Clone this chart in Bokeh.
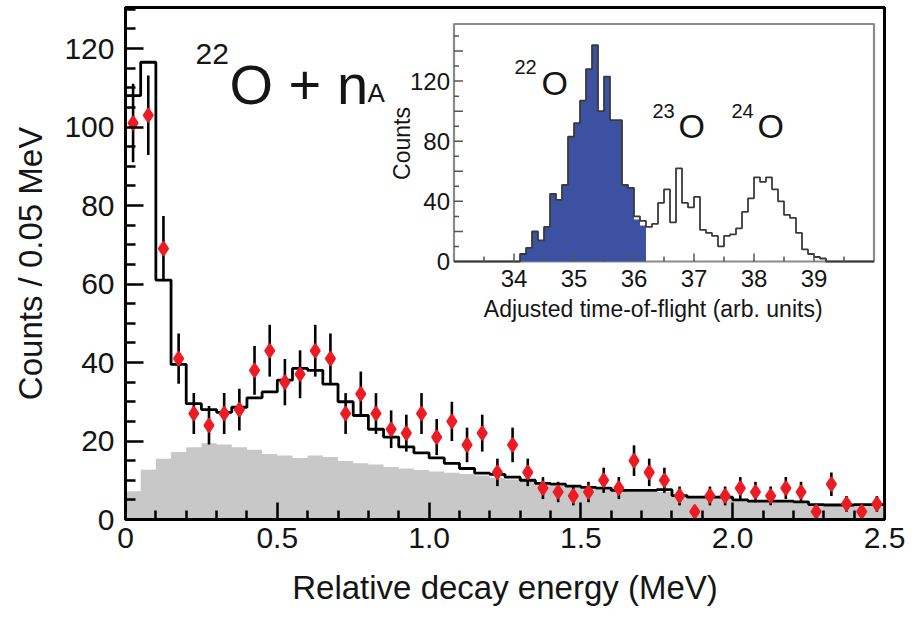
import numpy as np
from bokeh.plotting import figure
from bokeh.models import Range1d, FixedTicker, Label
from bokeh.embed import file_html
from bokeh.resources import INLINE

# ---------------- main spectrum (0.05 MeV bins starting at 0) ----------------
energy_bin_width = 0.05
counts = [101, 103, 69, 41, 27, 24, 27, 28, 38, 43, 35, 37, 43, 41, 27, 32, 27, 23,
          22, 27, 21, 25, 19, 22, 12, 19, 12, 8, 7, 6, 7, 10, 8, 15, 12, 10, 6, 2,
          6, 6, 8, 7, 6, 8, 7, 2, 9, 4, 2, 4]
count_err = [10.0, 10.1, 8.3, 6.4, 5.2, 4.9, 5.2, 5.3, 6.2, 6.6, 5.9, 6.1, 6.6, 6.4,
             5.2, 5.7, 5.2, 4.8, 4.7, 5.2, 4.6, 5.0, 4.4, 4.7, 3.5, 4.4, 3.5, 2.8,
             2.6, 2.4, 2.6, 3.2, 2.8, 3.9, 3.5, 3.2, 2.4, 1.4, 2.4, 2.4, 2.8, 2.6,
             2.4, 2.8, 2.6, 1.4, 3.0, 2.0, 1.4, 2.0]
fit_total = [108, 116.5, 61, 39.5, 29.5, 28, 27.3, 28.6, 31, 32.5, 35.5, 38.5, 38,
             34.5, 30, 26.5, 23, 21, 18.5, 17, 15.7, 14.3, 13, 11.8, 11.5, 10.8, 10,
             9.2, 9, 8.5, 8.2, 8, 7.4, 7.4, 7.4, 7.6, 6.1, 5.7, 5.7, 5.7, 5.0, 4.7,
             4.7, 4.7, 4.5, 3.8, 3.7, 3.7, 3.8, 3.8]
background = [7.2, 12.7, 15.5, 17.2, 18.4, 19.4, 19.1, 18.4, 17.8, 16.7, 16.3, 15.7,
              16.3, 15.9, 14.9, 14.3, 14.0, 13.4, 13.0, 12.6, 12.2, 11.9, 11.6, 11.2,
              10.6, 10.2, 9.9, 9.3, 8.6, 8.2, 7.9, 7.6, 7.4, 7.0, 7.0, 7.0, 5.8, 5.5,
              5.5, 5.5, 4.8, 4.5, 4.5, 4.5, 4.2, 3.6, 3.4, 3.4, 3.5, 3.5]

x_ticks = [0, 0.5, 1, 1.5, 2, 2.5]
x_tick_labels = ["0", "0.5", "1.0", "1.5", "2.0", "2.5"]
x_minor = [0.1, 0.2, 0.3, 0.4, 0.6, 0.7, 0.8, 0.9, 1.1, 1.2, 1.3, 1.4, 1.6, 1.7, 1.8,
           1.9, 2.1, 2.2, 2.3, 2.4]
y_ticks = [0, 20, 40, 60, 80, 100, 120]
y_minor = [5, 10, 15, 25, 30, 35, 45, 50, 55, 65, 70, 75, 85, 90, 95, 105, 110, 115, 125, 130]
x_title = "Relative decay energy (MeV)"
y_title = "Counts / 0.05 MeV"

# ---------------- inset: time-of-flight (0.1 bins) ----------------
tof_first_edge = 34.1
tof_bin_width = 0.1
tof_counts = [5, 9, 20, 14, 23, 45, 41, 51, 83, 92, 107, 128, 144, 100, 123, 94, 94,
              51, 49, 30, 27, 23, 25, 39, 48, 26, 62, 39, 36, 43, 21, 19, 17, 10, 17,
              18, 22, 33, 42, 56, 53, 56, 48, 40, 31, 29, 19, 8, 5, 3, 2]
tof_gated = [5, 9, 20, 14, 23, 45, 41, 51, 83, 92, 107, 128, 144, 100, 123, 94, 94,
             51, 49, 28, 24]
inset_x_ticks = [34, 35, 36, 37, 38, 39]
inset_x_minor = [33.5, 34.5, 35.5, 36.5, 37.5, 38.5, 39.5]
inset_y_ticks = [0, 40, 80, 120]
inset_y_minor = [10, 20, 30, 50, 60, 70, 90, 100, 110, 130, 140, 150]

# ---------------- layout constants ----------------
W, H = 920, 618
FL, FR, FT, FB = 125, 884, 7, 519
XMAX = 2.5
YTOP = 130.45
IX0, IX1, IY0, IY1 = 33.0, 40.0, 0.0, 158.0
IL, IR, IT, IB = 453.5, 873.5, 23.5, 261.0

FONT = "Liberation Sans"
TXT = "#151515"
RED = "#ec1c24"

def dx(px):
    return (px - FL) / (FR - FL) * XMAX

def dy(py):
    return (FB - py) / (FB - FT) * YTOP

p = figure(width=W, height=H, x_range=Range1d(0, XMAX), y_range=Range1d(0, YTOP),
           min_border_left=FL, min_border_right=W - FR, min_border_top=FT,
           min_border_bottom=H - FB, output_backend="svg", toolbar_location=None)
p.xgrid.grid_line_color = None
p.ygrid.grid_line_color = None
p.outline_line_color = "black"
p.outline_line_width = 3
p.background_fill_color = "white"
p.border_fill_color = "white"

# main bins
n = len(counts)
edges = np.round(np.arange(n + 1) * energy_bin_width, 4)
centers = (edges[:-1] + edges[1:]) / 2

p.varea_step(x=list(edges), y1=[0] * (n + 1), y2=background + [background[-1]],
             step_mode="after", fill_color="#c8c8c8")
p.step(x=list(edges), y=fit_total + [fit_total[-1]], mode="after",
       line_color="black", line_width=2.8)
lo = [c - e for c, e in zip(counts, count_err)]
hi = [c + e for c, e in zip(counts, count_err)]
p.segment(x0=centers, y0=lo, x1=centers, y1=hi, line_color="black", line_width=2.6)
p.scatter(x=centers, y=counts, marker="diamond", size=12, fill_color=RED,
          line_color=RED, line_width=3, line_join="round")

# axes
p.xaxis.ticker = FixedTicker(ticks=x_ticks, minor_ticks=x_minor)
p.yaxis.ticker = FixedTicker(ticks=y_ticks, minor_ticks=y_minor)
p.xaxis.major_label_overrides = {t: lab for t, lab in zip(x_ticks, x_tick_labels)}
for ax in (p.xaxis[0], p.yaxis[0]):
    ax.axis_line_width = 3
    ax.axis_line_color = "black"
    ax.major_tick_line_width = 2.5
    ax.minor_tick_line_width = 2.5
    ax.major_tick_out = 0
    ax.minor_tick_out = 0
    ax.major_label_text_font = FONT
    ax.major_label_text_font_size = "30px"
    ax.major_label_text_color = TXT
    ax.axis_label_text_font = FONT
    ax.axis_label_text_font_size = "33px"
    ax.axis_label_text_font_style = "normal"
    ax.axis_label_text_color = TXT
p.xaxis.major_tick_in = 17
p.xaxis.minor_tick_in = 9
p.yaxis.major_tick_in = 18
p.yaxis.minor_tick_in = 10
p.xaxis.major_label_standoff = 8
p.yaxis.major_label_standoff = 11
p.xaxis.axis_label = x_title
p.yaxis.axis_label = y_title
p.xaxis.axis_label_standoff = 18
p.yaxis.axis_label_standoff = 12

# title annotation  22O + nA
p.add_layout(Label(x=dx(195), y=dy(53), text="22", text_font=FONT, text_font_size="30px",
                   text_color=TXT, text_baseline="alphabetic", text_align="left"))
p.add_layout(Label(x=dx(229), y=dy(84), text="O + n", text_font=FONT, text_font_size="56px",
                   text_color=TXT, text_baseline="alphabetic", text_align="left"))
p.add_layout(Label(x=dx(367), y=dy(92), text="A", text_font=FONT, text_font_size="26px",
                   text_color=TXT, text_baseline="alphabetic", text_align="left"))

# ---------------- inset drawn in its own ranges ----------------
sx = (IR - IL) / (IX1 - IX0)
sy = (IB - IT) / (IY1 - IY0)
p.extra_x_ranges = {"ix": Range1d(IX0 - (IL - FL) / sx, IX1 + (FR - IR) / sx)}
p.extra_y_ranges = {"iy": Range1d(IY0 - (FB - IB) / sy, IY1 + (IT - FT) / sy)}
kw = dict(x_range_name="ix", y_range_name="iy")

p.quad(left=IX0, right=IX1, bottom=IY0, top=IY1, fill_color="white",
       line_color="#8a8a8a", line_width=2.2, **kw)
m = len(tof_counts)
tof_edges = np.round(tof_first_edge + np.arange(m + 1) * tof_bin_width, 3)
g = len(tof_gated)
p.varea_step(x=list(tof_edges[:g + 1]), y1=[0] * (g + 1), y2=tof_gated + [tof_gated[-1]],
             step_mode="after", fill_color="#3d51a3", **kw)
sx_line = [IX0] + list(tof_edges) + [IX1]
sy_line = [0] + tof_counts + [0, 0]
p.step(x=sx_line, y=sy_line, mode="after", line_color="#3a3a3a", line_width=1.8, **kw)

# inset ticks (inward)
p.ray(x=inset_x_ticks, y=[IY0] * len(inset_x_ticks), length=8, length_units="screen",
      angle=np.pi / 2, line_color="#555", line_width=1.5, **kw)
p.ray(x=inset_x_minor, y=[IY0] * len(inset_x_minor), length=5, length_units="screen",
      angle=np.pi / 2, line_color="#555", line_width=1.5, **kw)
y_long = [v for v in inset_y_minor if v % 20 == 0] + [40, 80, 120]
y_short = [v for v in inset_y_minor if v % 20 != 0]
p.ray(x=[IX0] * len(y_long), y=y_long, length=9, length_units="screen", angle=0,
      line_color="#555", line_width=1.5, **kw)
p.ray(x=[IX0] * len(y_short), y=y_short, length=5, length_units="screen", angle=0,
      line_color="#555", line_width=1.5, **kw)

for t in inset_x_ticks:
    p.add_layout(Label(x=t, y=IY0 - 8 / sy, text=str(t), text_font=FONT,
                       text_font_size="24px", text_color=TXT, text_align="center",
                       text_baseline="top", **kw))
for t in inset_y_ticks:
    p.add_layout(Label(x=IX0 - 4 / sx, y=t, text=str(t), text_font=FONT,
                       text_font_size="24px", text_color=TXT, text_align="right",
                       text_baseline="middle", **kw))
p.add_layout(Label(x=(IX0 + IX1) / 2 - 0.18, y=IY0 - 34 / sy,
                   text="Adjusted time-of-flight (arb. units)",
                   text_font=FONT, text_font_size="23px", text_color=TXT,
                   text_align="center", text_baseline="top", **kw))
p.add_layout(Label(x=dx(401), y=dy(143), text="Counts", text_font=FONT, text_font_size="23px",
                   text_color=TXT, text_align="center", text_baseline="middle",
                   angle=np.pi / 2))

# isotope labels
for sup, sx_px, ox_px, sup_base, o_base in [("22", 514, 541, 66, 82),
                                             ("23", 652, 678, 110, 125),
                                             ("24", 731, 757, 110, 125)]:
    p.add_layout(Label(x=dx(sx_px), y=dy(sup_base), text=sup, text_font=FONT,
                       text_font_size="20px", text_color=TXT, text_align="left",
                       text_baseline="alphabetic"))
    p.add_layout(Label(x=dx(ox_px), y=dy(o_base), text="O", text_font=FONT,
                       text_font_size="34px", text_color=TXT, text_align="left",
                       text_baseline="alphabetic"))

open("out.html", "w").write(file_html(p, INLINE))
